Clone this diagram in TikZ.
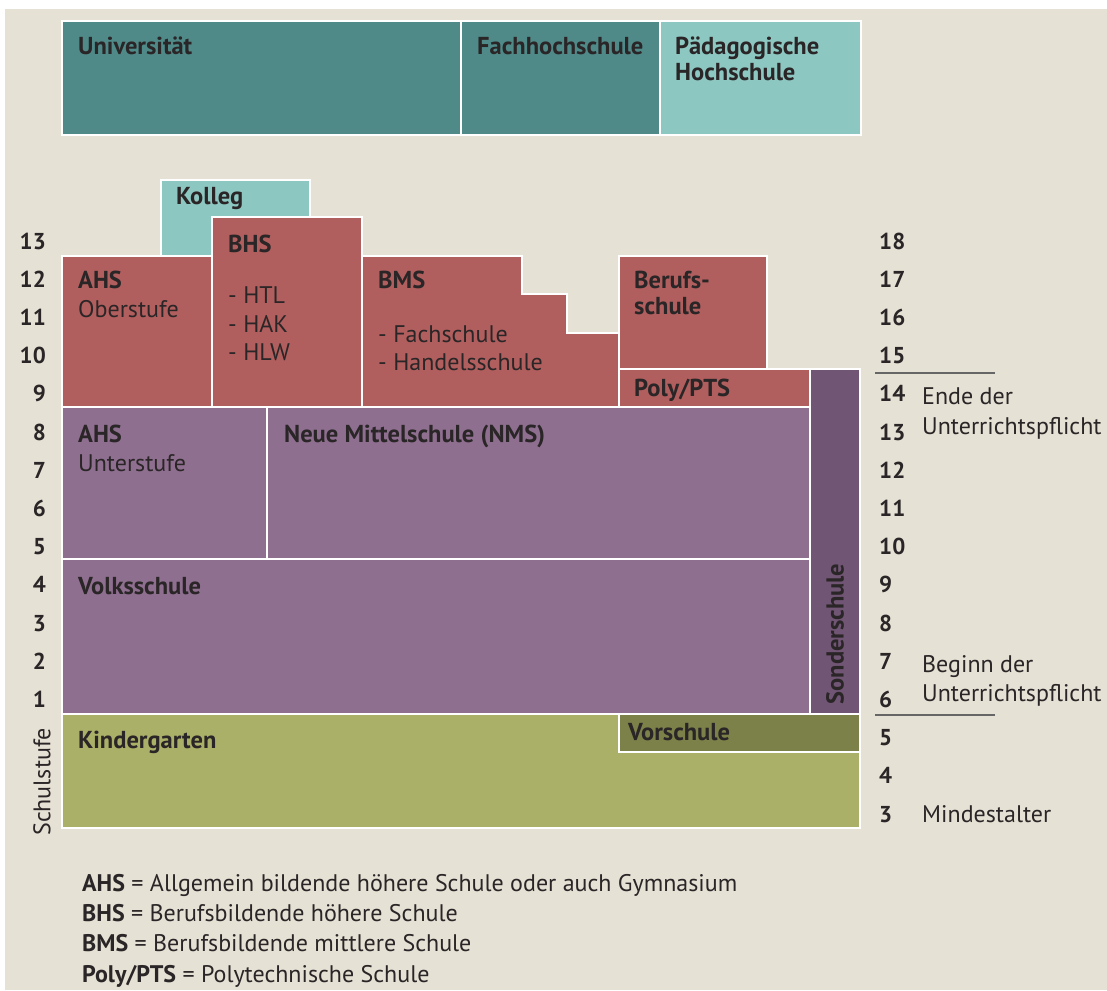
\documentclass[tikz,border=0pt]{standalone}
\usepackage{fontspec}
\setmainfont{PT Sans}
\definecolor{bgc}{HTML}{E5E1D4}
\definecolor{tealD}{HTML}{4F8A89}
\definecolor{tealL}{HTML}{8DC7C1}
\definecolor{redB}{HTML}{B15F5E}
\definecolor{purp}{HTML}{8F6F90}
\definecolor{purpD}{HTML}{705574}
\definecolor{olive}{HTML}{AAB068}
\definecolor{oliveD}{HTML}{7B8149}
\definecolor{txt}{HTML}{2A2526}
\definecolor{rule}{HTML}{666666}
\begin{document}
\begin{tikzpicture}[x=1pt,y=-1pt,
  blk/.style={draw=white,line width=2.6pt,line join=miter},
  bl/.style={anchor=base west,inner sep=0pt,text=txt,font=\fontsize{24.5}{28}\selectfont\bfseries},
  rl/.style={anchor=base west,inner sep=0pt,text=txt,font=\fontsize{24}{28}\selectfont},
  numL/.style={anchor=base east,inner sep=0pt,text=txt,font=\fontsize{23}{28}\selectfont\bfseries},
  numR/.style={anchor=base west,inner sep=0pt,text=txt,font=\fontsize{23}{28}\selectfont\bfseries},
  leg/.style={anchor=base west,inner sep=0pt,text=txt,font=\fontsize{24}{28}\selectfont},
  ruleline/.style={draw=rule,line width=2.6pt}]
\useasboundingbox (0,0) rectangle (1107,990);
\fill[white] (0,0) rectangle (1107,990);
\fill[bgc] (5,9) rectangle (1107,990);
% top row
\filldraw[blk,fill=tealD] (62,21) rectangle (461,135);
\filldraw[blk,fill=tealD] (461,21) rectangle (660,135);
\filldraw[blk,fill=tealL] (660,21) rectangle (861,135);
% upper secondary
\filldraw[blk,fill=tealL] (161,180) rectangle (310,256);
\filldraw[blk,fill=redB] (212,217) rectangle (362,407);
\filldraw[blk,fill=redB] (62,256) rectangle (212,407);
\filldraw[blk,fill=redB] (362,256) -- (522,256) -- (522,294) -- (567,294) -- (567,333) -- (619,333) -- (619,407) -- (362,407) -- cycle;
\filldraw[blk,fill=redB] (619,256) rectangle (767,369);
\filldraw[blk,fill=redB] (619,369) rectangle (810,407);
\filldraw[blk,fill=purpD] (810,369) rectangle (860,714);
% lower secondary / primary
\filldraw[blk,fill=purp] (62,407) rectangle (267,559);
\filldraw[blk,fill=purp] (267,407) rectangle (810,559);
\filldraw[blk,fill=purp] (62,559) rectangle (810,714);
\filldraw[blk,fill=olive] (62,714) rectangle (860,828);
\filldraw[blk,fill=oliveD] (619,714) rectangle (860,752);
% labels
\node[bl] (uni) at (78,55) {Universität};
\node[bl] (fh) at (477,55) {Fachhochschule};
\node[bl] (ph1) at (675,55) {Pädagogische};
\node[bl] (ph2) at (675,80) {Hochschule};
\node[bl] (kol) at (176,204) {Kolleg};
\node[bl] (bhs) at (228,252) {BHS};
\node[rl] (htl) at (228,303) {- HTL};
\node[rl] (hak) at (228,332) {- HAK};
\node[rl] (hlw) at (228,360) {- HLW};
\node[bl] (ahs) at (78,288) {AHS};
\node[rl] (ober) at (78,317) {Oberstufe};
\node[bl] (bms) at (378,288) {BMS};
\node[rl] (fach) at (378,342) {- Fachschule};
\node[rl] (hand) at (378,370) {- Handelsschule};
\node[bl] (bs1) at (634,288) {Berufs-};
\node[bl] (bs2) at (634,314) {schule};
\node[bl] (poly) at (634,396) {Poly/PTS};
\node[bl] (ahsu) at (78,442) {AHS};
\node[rl] (unter) at (78,471) {Unterstufe};
\node[bl] (nms) at (284,442) {Neue Mittelschule (NMS)};
\node[bl] (vs) at (78,594) {Volksschule};
\node[bl] (kg) at (78,748) {Kindergarten};
\node[bl] (vor) at (628,740) {Vorschule};
\node[bl,anchor=center,rotate=90] (sonder) at (835,634) {Sonderschule};
\node[rl,anchor=center,rotate=90] (stufe) at (42,782) {Schulstufe};
% left numbers
\foreach \n in {1,...,13}{
  \node[numL] (l\n) at (46,{249+38.2*(13-\n)}) {\n};
}
% right numbers
\foreach \n in {3,...,18}{
  \node[numR] (r\n) at (879,{249+38.2*(18-\n)}) {\n};
}
\draw[ruleline] (875,373) -- (995,373);
\draw[ruleline] (875,715) -- (995,715);
\node[rl] (ende1) at (922,404) {Ende der};
\node[rl] (ende2) at (922,434) {Unterrichtspflicht};
\node[rl] (beg1) at (922,672) {Beginn der};
\node[rl] (beg2) at (922,701) {Unterrichtspflicht};
\node[rl] (min) at (922,822) {Mindestalter};
% legend
\node[leg] (lg1) at (82,891) {\textbf{AHS} = Allgemein bildende höhere Schule oder auch Gymnasium};
\node[leg] (lg2) at (82,921) {\textbf{BHS} = Berufsbildende höhere Schule};
\node[leg] (lg3) at (82,951) {\textbf{BMS} = Berufsbildende mittlere Schule};
\node[leg] (lg4) at (82,982) {\textbf{Poly/PTS} = Polytechnische Schule};
\end{tikzpicture}
\end{document}
